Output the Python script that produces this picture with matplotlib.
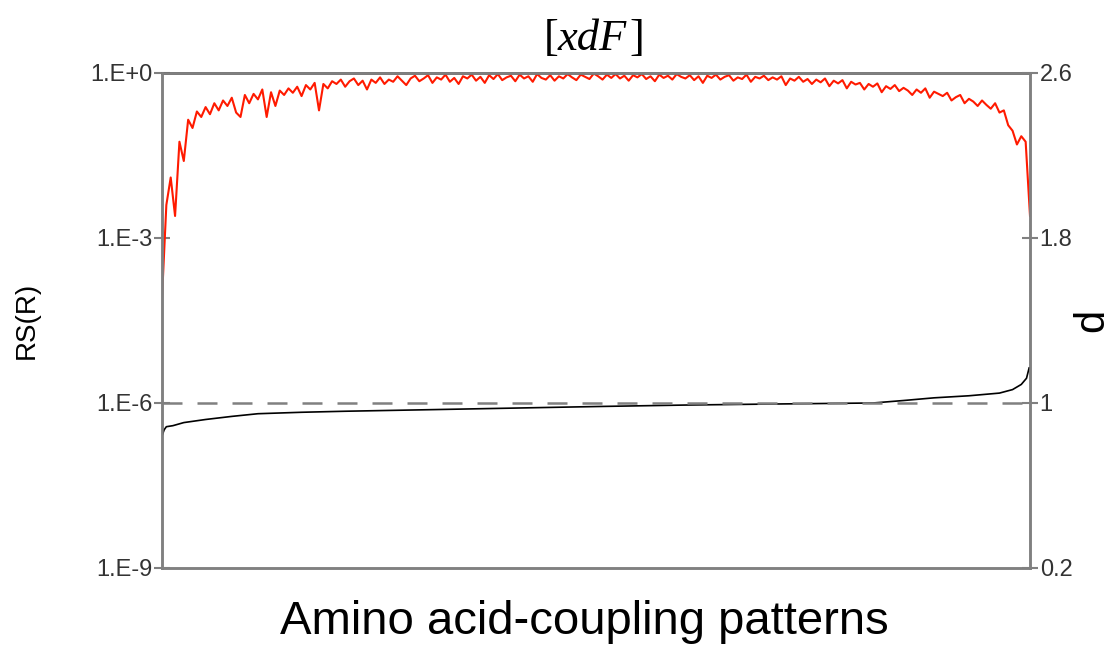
import numpy as np
import matplotlib
matplotlib.use("Agg")
import matplotlib.pyplot as plt

plt.rcParams['font.family'] = ['Liberation Sans', 'DejaVu Sans']

rs_log = [
    -4.1, -2.4, -1.9, -2.6, -1.25, -1.6, -0.85, -1.0, -0.7, -0.8,
    -0.62, -0.75, -0.55, -0.68, -0.5, -0.6, -0.45, -0.72, -0.8, -0.4,
    -0.55, -0.38, -0.48, -0.3, -0.8, -0.35, -0.6, -0.32, -0.4, -0.28,
    -0.36, -0.25, -0.42, -0.22, -0.3, -0.18, -0.68, -0.2, -0.28, -0.15,
    -0.2, -0.12, -0.25, -0.15, -0.1, -0.22, -0.14, -0.3, -0.12, -0.18,
    -0.08, -0.2, -0.12, -0.16, -0.06, -0.14, -0.22, -0.1, -0.05, -0.15,
    -0.1, -0.04, -0.18, -0.08, -0.12, -0.03, -0.16, -0.09, -0.2, -0.06,
    -0.1, -0.03, -0.14, -0.07, -0.18, -0.04, -0.11, -0.02, -0.13, -0.08,
    -0.05, -0.15, -0.03, -0.1, -0.06, -0.16, -0.02, -0.09, -0.12, -0.04,
    -0.14, -0.06, -0.1, -0.02, -0.08, -0.13, -0.03, -0.07, -0.11, -0.01,
    -0.06, -0.12, -0.03, -0.09, -0.02, -0.1, -0.05, -0.14, -0.04, -0.08,
    -0.02, -0.11, -0.06, -0.15, -0.03, -0.09, -0.05, -0.12, -0.02, -0.07,
    -0.1, -0.04, -0.13, -0.06, -0.18, -0.05, -0.09, -0.03, -0.12, -0.07,
    -0.04, -0.14, -0.08, -0.11, -0.03, -0.16, -0.07, -0.1, -0.05, -0.13,
    -0.08, -0.12, -0.06, -0.22, -0.1, -0.14, -0.07, -0.16, -0.11, -0.2,
    -0.12, -0.17, -0.1, -0.24, -0.14, -0.19, -0.13, -0.28, -0.16, -0.21,
    -0.18, -0.3, -0.2, -0.25, -0.19, -0.35, -0.24, -0.29, -0.22, -0.33,
    -0.27, -0.32, -0.4, -0.3, -0.36, -0.28, -0.45, -0.34, -0.38, -0.42,
    -0.36, -0.5, -0.44, -0.4, -0.55, -0.47, -0.52, -0.6, -0.5, -0.58,
    -0.65, -0.55, -0.72, -0.68, -0.95, -1.05, -1.3, -1.15, -1.25, -2.6,
]

# d curve (right axis), sampled at bin positions
d_pos = [0, 0.5, 1, 2.5, 5, 10, 16, 22, 32, 42, 60, 80, 100, 120, 140,
         163, 170, 177, 185, 192, 195, 197, 198.2, 198.8]
d_vals = [0.84, 0.87, 0.885, 0.89, 0.905, 0.92, 0.935, 0.948, 0.955, 0.96,
          0.967, 0.975, 0.983, 0.99, 0.995, 1.0, 1.012, 1.025, 1.035, 1.048,
          1.065, 1.09, 1.12, 1.17]

left_ticks = [1e-9, 1e-6, 1e-3, 1e0]
left_labels = ['1.E-9', '1.E-6', '1.E-3', '1.E+0']
right_ticks = [0.2, 1, 1.8, 2.6]
right_labels = ['0.2', '1', '1.8', '2.6']

GREY = '#808080'
TXT = '#333333'

fig = plt.figure(figsize=(11.11, 6.51), dpi=100)
ax = fig.add_axes([0.1458, 0.1275, 0.7813, 0.7604])

x = np.arange(len(rs_log))
ax.semilogy(x, 10 ** np.array(rs_log), color='#ff1a00', linewidth=1.5)
ax.set_ylim(1e-9, 1)
ax.set_xlim(0, len(rs_log) - 1)
ax.set_yticks(left_ticks)
ax.set_yticklabels(left_labels)
ax.yaxis.set_minor_locator(matplotlib.ticker.NullLocator())
ax.set_xticks([])
ax.tick_params(axis='y', direction='inout', length=12, width=1.5, color=GREY,
               labelsize=17, labelcolor=TXT, pad=1)
ax.set_ylabel('RS(R)', fontsize=20, color='black', labelpad=36)
ax.set_xlabel('Amino acid-coupling patterns', fontsize=34, labelpad=24)
ax.xaxis.set_label_coords(0.487, -0.065)

ax2 = ax.twinx()
ax2.plot(d_pos, d_vals, color='black', linewidth=1.2)
ax2.axhline(1, color=GREY, linewidth=1.8, dashes=(8, 6))
ax2.set_ylim(0.2, 2.6)
ax2.set_yticks(right_ticks)
ax2.set_yticklabels(right_labels)
ax2.tick_params(axis='y', direction='inout', length=12, width=1.5, color=GREY,
                labelsize=17, labelcolor=TXT, pad=1)
ax2.set_ylabel('d', fontsize=30, rotation=90, labelpad=0)

for a in (ax, ax2):
    for s in a.spines.values():
        s.set_color(GREY)
        s.set_linewidth(1.8)
ax.spines['top'].set_color('#444444')

# title: upright brackets around an italic serif xdF
fig.text(0.496, 0.940, '[', fontsize=32, family='Liberation Serif',
         ha='center', va='center')
fig.text(0.533, 0.940, 'xdF', fontsize=32, family='Liberation Serif',
         style='italic', ha='center', va='center')
fig.text(0.573, 0.940, ']', fontsize=32, family='Liberation Serif',
         ha='center', va='center')

fig.savefig('out.png', dpi=100)
